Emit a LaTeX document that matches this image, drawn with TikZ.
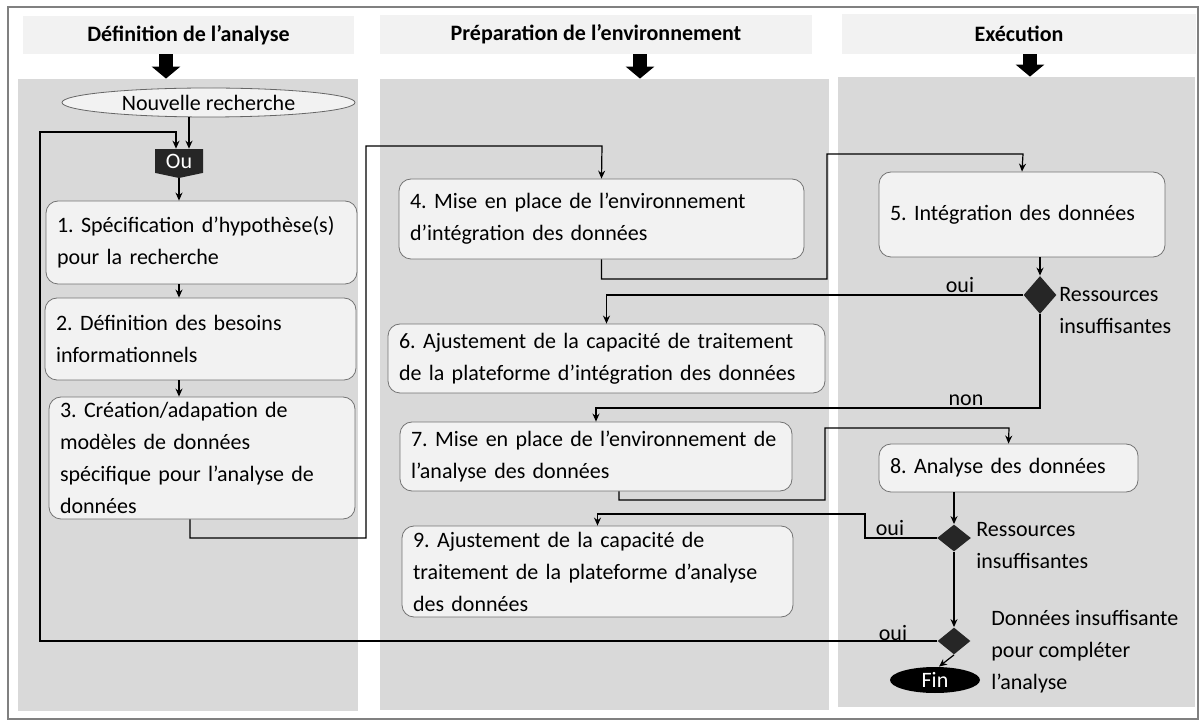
\documentclass[tikz,border=0pt]{standalone}
\usepackage{fontspec}
\setmainfont{Carlito}
\frenchspacing
\usetikzlibrary{arrows.meta,shapes.geometric,shapes.symbols}
\definecolor{couloirgris}{HTML}{D9D9D9}
\definecolor{boitegris}{HTML}{F2F2F2}
\definecolor{noirdoux}{HTML}{262626}
\tikzset{
  couloir/.style={fill=couloirgris, inner sep=0pt},
  entete/.style={fill=boitegris, inner sep=0pt, font=\fontsize{11}{13}\selectfont\bfseries},
  etape/.style={draw=black!55, fill=boitegris, rounded corners=6pt, align=left,
    inner xsep=5.5pt, inner ysep=0pt, font=\fontsize{11}{16}\selectfont},
  decision/.style={diamond, fill=noirdoux, inner sep=0pt},
  libelle/.style={align=left, inner sep=0pt, font=\fontsize{11}{16}\selectfont},
  fleche/.style={line width=0.6pt, -{Stealth[length=4pt,width=3.5pt]}},
  grosfleche/.style={line width=7pt, -{Triangle[length=6pt,width=14pt]}},
}
\begin{document}
\begin{tikzpicture}[x=0.5pt,y=-0.5pt]
\useasboundingbox (0,0) rectangle (1200,721);
\draw[black!50, line width=0.6pt] (8,7) rectangle (1198,719);
% couloirs et en-tetes
\node[couloir, minimum width=170pt, minimum height=316pt] (lane1) at (188,395) {};
\node[couloir, minimum width=224.5pt, minimum height=315.5pt] (lane2) at (604.5,394.5) {};
\node[couloir, minimum width=178.5pt, minimum height=315pt] (lane3) at (1016.5,392) {};
\node[entete, minimum width=165.5pt, minimum height=19pt] (h1) at (188.5,35) {Définition de l’analyse};
\node[entete, minimum width=216pt, minimum height=19.5pt] (h2) at (596,34.5) {Préparation de l’environnement};
\node[entete, minimum width=177pt, minimum height=20pt] (h3) at (1019,34) {Exécution};
\coordinate (f1) at (166,0);
\coordinate (f2) at (640,0);
\coordinate (f3) at (1030,0);
\draw[grosfleche] (h1.south -| f1) -- (lane1.north -| f1);
\draw[grosfleche] (h2.south -| f2) -- (lane2.north -| f2);
\draw[grosfleche] (h3.south -| f3) -- (lane3.north -| f3);

\node[ellipse, draw=black!60, fill=boitegris, inner sep=0pt, minimum width=146.5pt, minimum height=14.5pt,
  font=\fontsize{11}{13}\selectfont] (ell) at (208.5,102.5) {Nouvelle recherche};
\node[signal, signal to=south, signal pointer angle=156, fill=noirdoux, text=white, inner sep=1pt,
  minimum width=24pt, minimum height=13.5pt, font=\fontsize{11}{13}\selectfont] (ou) at (179,161) {Ou};
\node[etape, text width=144.5pt, minimum height=41.5pt] (b1) at (201.5,242.5) {1. Spécification d’hypothèse(s)\\pour la recherche};
\node[etape, text width=144.5pt, minimum height=41pt] (b2) at (200.5,339) {2. Définition des besoins\\informationnels};
\node[etape, text width=142pt, minimum height=61pt] (b3) at (202,458) {3. Création/adapation de\\modèles de données\\spécifique pour l’analyse de\\données};
\node[etape, text width=191.5pt, minimum height=40pt] (b4) at (601.5,219) {4. Mise en place de l’environnement\\d’intégration des données};
\node[etape, text width=132pt, minimum height=42.5pt] (b5) at (1022,214.5) {5. Intégration des données};
\node[etape, text width=207.5pt, minimum height=34.5pt] (b6) at (606.5,358.5) {6. Ajustement de la capacité de traitement\\de la plateforme d’intégration des données};
\node[etape, text width=185pt, minimum height=34.5pt] (b7) at (596,456.5) {7. Mise en place de l’environnement de\\l’analyse des données};
\node[etape, text width=118.5pt, minimum height=24pt] (b8) at (1008.5,468) {8. Analyse des données};
\node[etape, text width=184.5pt, minimum height=45.5pt] (b9) at (597.5,571.5) {9. Ajustement de la capacité de\\traitement de la plateforme d’analyse\\des données};

\node[decision, minimum width=16.5pt, minimum height=19pt] (d1) at (1040,295) {};
\node[decision, minimum width=17pt, minimum height=13.5pt] (d2) at (954,538) {};
\node[decision, minimum width=16.5pt, minimum height=13.5pt] (d3) at (954,641) {};
\node[ellipse, fill=black, text=white, inner sep=0pt, minimum width=45pt, minimum height=13pt,
  font=\fontsize{11}{13}\selectfont] (fin) at (935,680) {Fin};

\node[libelle, anchor=west] (r1) at (1059,311) {Ressources\\insuffisantes};
\node[libelle, anchor=west] (r2) at (976,546) {Ressources\\insuffisantes};
\node[libelle, anchor=west] (r3) at (991,652) {Données insuffisante\\pour compléter\\l’analyse};
\node[libelle] (oui1) at (960,285) {oui};
\node[libelle] (non1) at (966,400) {non};
\node[libelle] (oui2) at (890,528) {oui};
\node[libelle] (oui3) at (893,633) {oui};

% points de passage
\coordinate (ouA) at ([xshift=-1.5pt]ou.north);
\coordinate (ouB) at ([xshift=5pt]ou.north);
\coordinate (k0) at (40,132);
\coordinate (k1) at (366,538);
\coordinate (k2) at (602,146);
\coordinate (k3) at (827,279);
\coordinate (k4) at (1023,154);
\coordinate (k5) at (596,408);
\coordinate (k6) at (825,500);
\coordinate (k7) at (1009,428);
\coordinate (k8) at (865,514);

\draw[fleche] (ell.south -| ouB) -- (ouB);
\draw[fleche] (d3.west) -| (k0) -| (ouA);
\draw[fleche] (ou.south) -- (b1.north -| ou.south);
\draw[fleche] (b1.south -| ou) -- (b2.north -| ou);
\draw[fleche] (b2.south -| ou) -- (b3.north -| ou);
\draw[fleche] ([xshift=-6pt]b3.south) |- (k1) |- (k2) -- (b4.north);
\draw[fleche] (b4.south) |- (k3) |- (k4) -- (b5.north);
\draw[fleche] (b5.south -| d1) -- (d1.north);
\draw[fleche] (d1.west) -| (b6.north);
\draw[fleche] (d1.south) |- (k5) -| (b7.north);
\draw[fleche] ([xshift=11.5pt]b7.south) |- (k6) |- (k7) -- (b8.north);
\draw[fleche] (b8.south -| d2) -- (d2.north);
\draw[fleche] (d2.west) -| (k8) -| (b9.north);
\draw[fleche] (d2.south) -- (d3.north);
\draw[fleche] (d3.south) -- ([xshift=2pt]fin.north);
\end{tikzpicture}
\end{document}
